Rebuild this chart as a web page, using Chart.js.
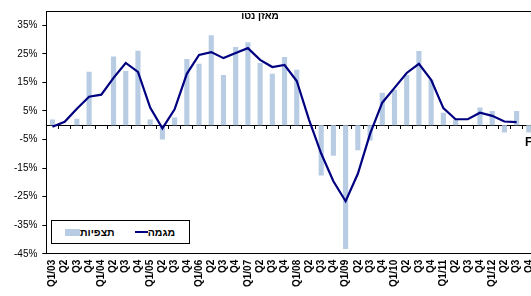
<!DOCTYPE html>
<html>
<head>
<meta charset="utf-8">
<script src="https://cdn.jsdelivr.net/npm/chart.js@4.4.1/dist/chart.umd.min.js"></script>
<style>
  html, body { margin: 0; padding: 0; background: #fff; overflow: hidden; }
  #wrap { position: relative; width: 547px; height: 296px; font-family: Arial, "Liberation Sans", sans-serif; }
  .chart-title { position: absolute; left: 210px; width: 100px; top: 10px; text-align: center; font-weight: bold; font-size: 10px; direction: rtl; color: #000; }
  .cut-note { position: absolute; left: 525px; top: 135px; font-weight: bold; font-size: 12px; color: #000; }
  #legend { position: absolute; left: 51px; top: 220px; width: 124px; height: 22px; border: 1px solid #000; background: #fff;
            display: flex; align-items: center; padding-left: 13px; box-sizing: content-box; font-weight: bold; font-size: 10.5px; color: #000; }
  #legend .item { display: flex; align-items: center; margin-right: 20px; }
  #legend .key-bar { display: inline-block; width: 15px; height: 7px; }
  #legend .key-line { display: inline-block; width: 13px; height: 2px; }
</style>
</head>
<body>
<div id="wrap">
  <canvas id="trendChart"></canvas>
  <div class="chart-title">מאזן נטו</div>
  <div class="cut-note">F</div>
  <div id="legend"></div>
</div>
<script>
const labels = [
  'Q1/03', 'Q2', 'Q3', 'Q4', 'Q1/04', 'Q2', 'Q3', 'Q4',
  'Q1/05', 'Q2', 'Q3', 'Q4', 'Q1/06', 'Q2', 'Q3', 'Q4',
  'Q1/07', 'Q2', 'Q3', 'Q4', 'Q1/08', 'Q2', 'Q3', 'Q4',
  'Q1/09', 'Q2', 'Q3', 'Q4', 'Q1/10', 'Q2', 'Q3', 'Q4',
  'Q1/11', 'Q2', 'Q3', 'Q4', 'Q1/12', 'Q2', 'Q3', 'Q4'
];

// תצפיות - observations (bars)
const observations = [
  2.0, null, 2.3, 18.7, null, 24.1, 19.0, 26.1,
  2.0, -5.0, 2.7, 23.2, 21.5, 31.5, 17.6, 27.4,
  29.1, 21.8, 18.0, 23.9, 19.4, null, -17.6, -10.7,
  -43.3, -8.8, -5.3, 11.4, 12.4, 17.6, 26.0, 15.9,
  4.4, 2.1, null, 6.2, 5.0, -2.5, 5.0, -2.5
];

// מגמה - trend (line)
const trend = [
  -0.5, 1.2, 5.8, 10.0, 10.7, 16.6, 21.8, 18.7,
  6.2, -1.1, 5.6, 18.0, 24.6, 25.6, 23.5, 25.3,
  27.0, 22.9, 20.4, 21.1, 15.5, 2.0, -9.9, -19.6,
  -26.6, -17.0, -3.0, 7.9, 13.1, 18.3, 21.5, 15.9,
  6.0, 2.1, 2.1, 4.4, 3.3, 1.3, 1.1, null
];

const yTicks = [-45, -35, -25, -15, -5, 5, 15, 25, 35];

const canvas = document.getElementById('trendChart');

const chart = new Chart(canvas, {
  type: 'bar',
  data: {
    labels: labels,
    datasets: [
      {
        type: 'bar',
        label: 'תצפיות',
        data: observations,
        backgroundColor: '#b8cce4',
        barPercentage: 0.42,
        categoryPercentage: 1,
        order: 2
      },
      {
        type: 'line',
        label: 'מגמה',
        data: trend,
        borderColor: '#000080',
        backgroundColor: '#000080',
        borderWidth: 2.2,
        pointRadius: 0,
        tension: 0,
        order: 1
      }
    ]
  },
  options: {
    responsive: true,
    maintainAspectRatio: false,
    animation: false,
    layout: { padding: { left: 9, right: 6, top: 3, bottom: 3 } },
    plugins: {
      legend: { display: false },
      tooltip: { enabled: false }
    },
    scales: {
      x: {
        position: 'bottom',
        offset: true,
        grid: { display: false, drawTicks: false },
        border: { display: true, color: '#000', width: 1 },
        ticks: {
          autoSkip: false,
          maxRotation: 90,
          minRotation: 90,
          padding: 6,
          color: '#000',
          font: { family: 'Arial, "Liberation Sans"', size: 10, weight: 'bold' }
        }
      },
      xZero: {
        type: 'category',
        position: { y: 0 },
        offset: true,
        grid: { display: true, offset: true, drawOnChartArea: false, drawTicks: true, tickLength: 3, color: '#000' },
        border: { display: true, color: '#000', width: 1 },
        ticks: { display: false }
      },
      xTop: {
        type: 'category',
        position: 'top',
        grid: { display: false, drawTicks: false },
        border: { display: true, color: '#000', width: 1 },
        ticks: { display: false }
      },
      y: {
        min: -45,
        max: 40,
        afterBuildTicks: (axis) => {
          axis.ticks = yTicks.map((v) => ({ value: v }));
        },
        grid: { display: true, drawOnChartArea: false, drawTicks: true, tickLength: 4, color: '#000' },
        border: { display: true, color: '#000', width: 1 },
        ticks: {
          padding: 5,
          color: '#000',
          font: { family: 'Arial, "Liberation Sans"', size: 10 },
          callback: (value) => value + '%'
        }
      }
    }
  }
});

function renderLegend(chart) {
  const box = document.getElementById('legend');
  chart.data.datasets.forEach((ds) => {
    const item = document.createElement('span');
    item.className = 'item';
    const key = document.createElement('i');
    key.className = ds.type === 'line' ? 'key-line' : 'key-bar';
    key.style.background = ds.type === 'line' ? ds.borderColor : ds.backgroundColor;
    const text = document.createElement('span');
    text.textContent = ds.label;
    item.append(key, text);
    box.appendChild(item);
  });
}

renderLegend(chart);
</script>
</body>
</html>
